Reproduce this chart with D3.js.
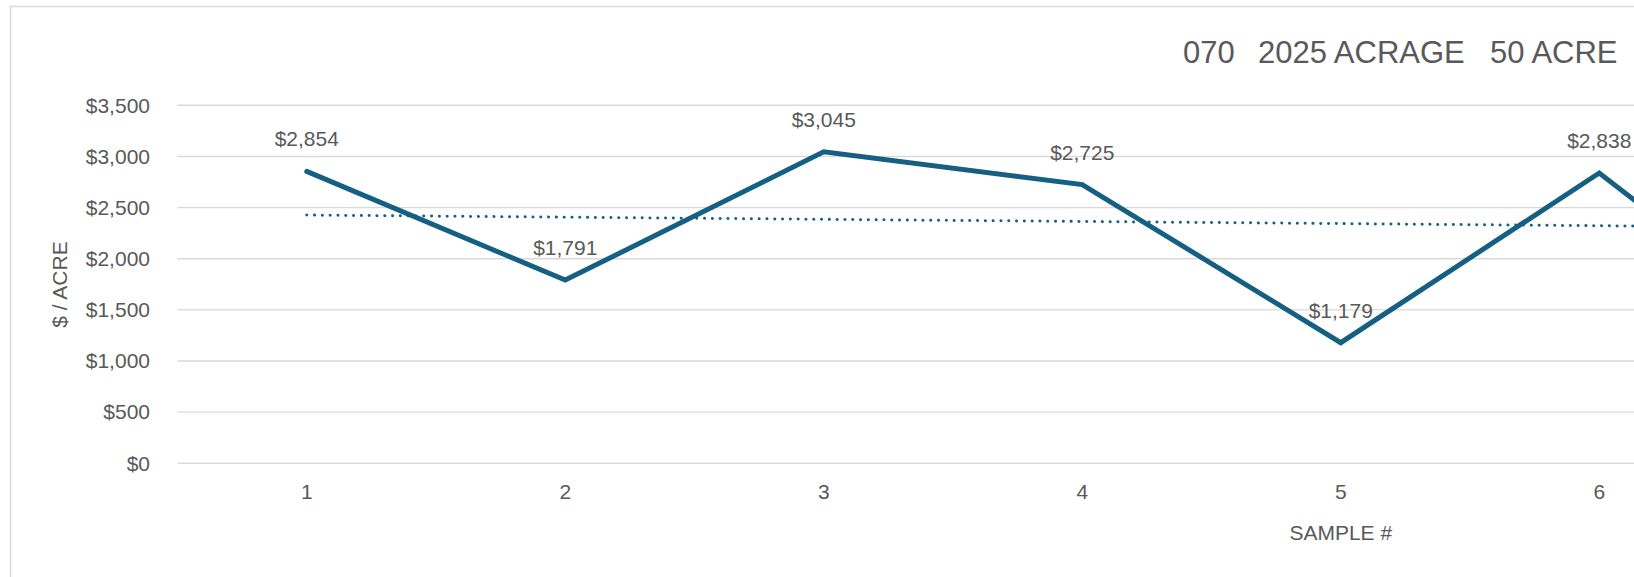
<!DOCTYPE html>
<html lang="en">
<head>
  <meta charset="UTF-8">
  <title>070 2025 ACRAGE 50 ACRE</title>
  <script src="https://d3js.org/d3.v7.min.js"></script>
  <style>
    body {
      margin: 0;
      background-color: #ffffff;
      overflow: hidden;
    }
    svg {
      display: block;
      font-family: 'Liberation Sans', Arial, sans-serif;
    }
    .tick text {
      fill: #595959;
      font-size: 21px;
    }
  </style>
</head>
<body>
  <svg id="chart" width="1634" height="577"></svg>

  <script>
    // Data (sample 7 is only partly visible, 8 and 9 are off the picture)
    const samples = ["1", "2", "3", "4", "5", "6", "7", "8", "9"];
    const pricePerAcre = [2854, 1791, 3045, 2725, 1179, 2838, 890];
    const trendSamples = ["1", "9"];
    const trendValues = [2427, 2260];
    const yTicks = [0, 500, 1000, 1500, 2000, 2500, 3000, 3500];
    const titleParts = ["070", "2025 ACRAGE", "50 ACRE"];

    const svg = d3.select("#chart");
    const width = +svg.attr("width");
    const color = "#156082";
    const textColor = "#595959";

    // chart border (runs off the right and bottom edge)
    svg.append("rect")
      .attr("x", 10.5)
      .attr("y", 6.5)
      .attr("width", 2000)
      .attr("height", 1000)
      .attr("fill", "none")
      .attr("stroke", "#d9d9d9")
      .attr("stroke-width", 1.5);

    const plotLeft = 177.5, band = 258.5;
    const plotTop = 105.3, plotBottom = 463.3;

    const x = d3.scaleBand()
      .domain(samples)
      .range([plotLeft, plotLeft + band * samples.length]);

    const y = d3.scaleLinear()
      .domain([0, 3500])
      .range([plotBottom, plotTop]);

    const cx = d => x(d) + x.bandwidth() / 2;
    const inView = s => cx(s) < width; // the chart runs past the right edge

    // gridlines
    svg.append("g")
      .selectAll("line")
      .data(yTicks)
      .enter().append("line")
      .attr("x1", plotLeft)
      .attr("x2", x.range()[1])
      .attr("y1", d => y(d))
      .attr("y2", d => y(d))
      .attr("stroke", "#d9d9d9")
      .attr("stroke-width", 1.4);

    // y axis
    const yAxis = svg.append("g")
      .attr("transform", `translate(${plotLeft},0)`)
      .call(d3.axisLeft(y).tickValues(yTicks).tickFormat(d3.format("$,")).tickSize(0).tickPadding(27.5));
    yAxis.select(".domain").remove();

    // x axis
    const xAxis = svg.append("g")
      .attr("transform", `translate(0,${plotBottom})`)
      .call(d3.axisBottom(x).tickValues(samples.filter(inView)).tickSize(0).tickPadding(21));
    xAxis.select(".domain").remove();

    // trend line (dotted)
    const trend = trendSamples.map((s, i) => ({ s: s, v: trendValues[i] }));
    svg.append("path")
      .datum(trend)
      .attr("fill", "none")
      .attr("stroke", color)
      .attr("stroke-width", 3)
      .attr("stroke-linecap", "round")
      .attr("stroke-dasharray", "0.1 7.7")
      .attr("d", d3.line().x(d => cx(d.s)).y(d => y(d.v)));

    // main line
    const points = pricePerAcre.map((v, i) => ({ s: samples[i], v: v }));
    svg.append("path")
      .datum(points)
      .attr("fill", "none")
      .attr("stroke", color)
      .attr("stroke-width", 5)
      .attr("stroke-linecap", "round")
      .attr("stroke-linejoin", "miter")
      .attr("d", d3.line().x(d => cx(d.s)).y(d => y(d.v)));

    // data labels
    svg.append("g")
      .selectAll("text")
      .data(points.filter(d => inView(d.s)))
      .enter().append("text")
      .attr("x", d => cx(d.s))
      .attr("y", d => y(d.v) - 25)
      .attr("text-anchor", "middle")
      .attr("fill", textColor)
      .style("font-size", "21px")
      .text(d => d3.format("$,")(d.v));

    // axis titles
    svg.append("text")
      .attr("transform", "translate(66.5,284.5) rotate(-90)")
      .attr("text-anchor", "middle")
      .attr("fill", textColor)
      .style("font-size", "21px")
      .text("$ / ACRE");

    svg.append("text")
      .attr("x", (x.range()[0] + x.range()[1]) / 2)
      .attr("y", 539.5)
      .attr("text-anchor", "middle")
      .attr("fill", textColor)
      .style("font-size", "21px")
      .text("SAMPLE #");

    // chart title
    const titleX = [1183, 1258, 1490];
    svg.append("text")
      .attr("y", 62.7)
      .attr("fill", textColor)
      .style("font-size", "31px")
      .selectAll("tspan")
      .data(titleParts)
      .enter().append("tspan")
      .attr("x", (d, i) => titleX[i])
      .text(d => d);
  </script>
</body>
</html>
